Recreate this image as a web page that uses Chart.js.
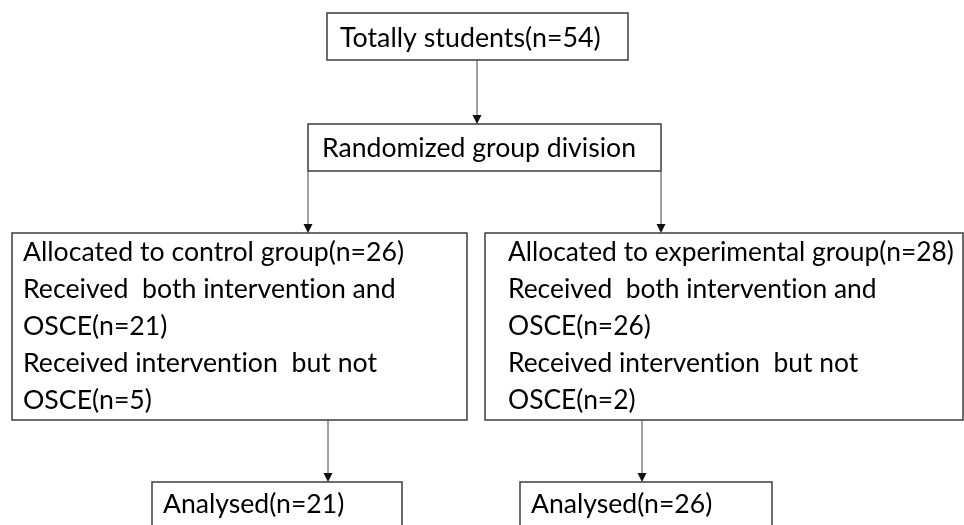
<!DOCTYPE html>
<html>
<head>
<meta charset="utf-8">
<style>
  html, body { margin: 0; padding: 0; background: #fff; }
  #wrap { width: 964px; height: 525px; }
</style>
<script src="https://cdn.jsdelivr.net/npm/chart.js@4.4.1/dist/chart.umd.min.js"></script>
</head>
<body>
<div id="wrap"><canvas id="flow"></canvas></div>
<script>
// ===== DATA =====
const boxText = [
  ["Totally students(n=54)"],
  ["Randomized group division"],
  ["Allocated to control group(n=26)", "Received  both intervention and", "OSCE(n=21)", "Received intervention  but not", "OSCE(n=5)"],
  ["Allocated to experimental group(n=28)", "Received  both intervention and", "OSCE(n=26)", "Received intervention  but not", "OSCE(n=2)"],
  ["Analysed(n=21)"],
  ["Analysed(n=26)"]
];
const boxLeft = [327, 308, 12, 485, 152, 520];
const boxRight = [628, 661, 467, 963, 402, 772];
const boxTop = [13, 124, 233, 233, 482, 482];
const boxBottom = [60, 171, 420, 420, 540, 540];

// arrows: x, start y, tip y
const arrowX = [477, 308, 661, 328, 642];
const arrowFrom = [60, 171, 171, 420, 420];
const arrowTo = [124, 233, 233, 482, 482];

// ===== STYLE =====
const FONT = "Lato, 'Open Sans', sans-serif";
const fontSize = [26.8, 26.6, 26.7, 26.4, 26.6, 26.6];
const lineGap = 37;
const padLeft = [13, 14, 11, 23, 11, 11];
const firstBase = [34, 33, 28, 28, 31, 31];

const flowPlugin = {
  id: "flow",
  afterDatasetsDraw(chart) {
    const { ctx, scales: { x, y } } = chart;
    ctx.save();
    if ("textRendering" in ctx) ctx.textRendering = "optimizeSpeed";
    // boxes
    boxText.forEach((lines, i) => {
      const x0 = x.getPixelForValue(boxLeft[i]);
      const x1 = x.getPixelForValue(boxRight[i]);
      const y0 = y.getPixelForValue(boxTop[i]);
      const y1 = y.getPixelForValue(boxBottom[i]);
      ctx.strokeStyle = "#3c3c3c";
      ctx.lineWidth = 1.5;
      ctx.strokeRect(x0, y0, x1 - x0, y1 - y0);
      ctx.font = fontSize[i] + "px " + FONT;
      ctx.fillStyle = "#000";
      ctx.textAlign = "left";
      ctx.textBaseline = "alphabetic";
      lines.forEach((t, k) => {
        ctx.fillText(t, x0 + padLeft[i], y0 + firstBase[i] + k * lineGap);
      });
    });
    // arrows
    arrowX.forEach((ax, i) => {
      const px = x.getPixelForValue(ax);
      const p0 = y.getPixelForValue(arrowFrom[i]);
      const p1 = y.getPixelForValue(arrowTo[i]);
      ctx.strokeStyle = "#444";
      ctx.lineWidth = 1;
      ctx.beginPath();
      ctx.moveTo(px, p0);
      ctx.lineTo(px, p1 - 8);
      ctx.stroke();
      ctx.fillStyle = "#111";
      ctx.beginPath();
      ctx.moveTo(px - 4.5, p1 - 9);
      ctx.lineTo(px + 4.5, p1 - 9);
      ctx.lineTo(px, p1);
      ctx.closePath();
      ctx.fill();
    });
    ctx.restore();
  }
};

new Chart(document.getElementById("flow"), {
  type: "scatter",
  data: { datasets: [{ data: [], pointRadius: 0 }] },
  options: {
    responsive: true,
    maintainAspectRatio: false,
    animation: false,
    layout: { padding: 0 },
    plugins: { legend: { display: false }, tooltip: { enabled: false } },
    scales: {
      x: { type: "linear", min: 0, max: 964, display: false },
      y: { type: "linear", min: 0, max: 525, reverse: true, display: false }
    }
  },
  plugins: [flowPlugin]
});
</script>
</body>
</html>
